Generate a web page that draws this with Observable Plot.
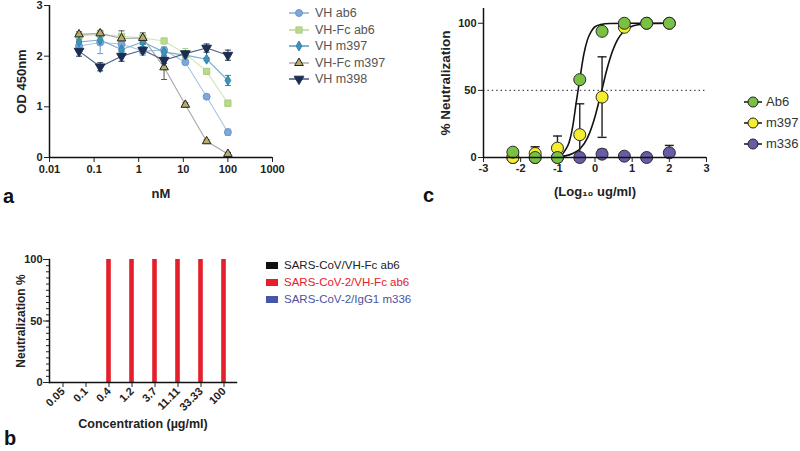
<!DOCTYPE html>
<html><head><meta charset="utf-8">
<script src="https://cdn.jsdelivr.net/npm/d3@7"></script>
<script src="https://cdn.jsdelivr.net/npm/@observablehq/plot@0.6"></script>
<style>
body{margin:0;background:#fff}
#root{position:relative;width:800px;height:451px;overflow:hidden;background:#fff;font-family:"Liberation Sans",Arial,Helvetica,sans-serif}
.letter{position:absolute;font-weight:bold;font-size:20px;line-height:20px;color:#111}
.lrow{position:absolute;display:flex;align-items:center;white-space:nowrap}
</style></head><body><div id="root"></div>
<script>
// ---------- Panel a data ----------
const concA = [0.046, 0.137, 0.412, 1.235, 3.704, 11.11, 33.33, 100];
const namesA = ["VH ab6", "VH-Fc ab6", "VH m397", "VH-Fc m397", "VH m398"];
const vhAb6      = [2.20, 2.27, 2.24, 2.10, 2.12, 1.88, 1.20, 0.50];
const vhFcAb6    = [2.40, 2.43, 2.39, 2.36, 2.30, 2.05, 1.70, 1.07];
const vhM397     = [2.28, 2.32, 2.13, 2.28, 2.08, 2.02, 1.94, 1.52];
const vhFcM397   = [2.43, 2.45, 2.35, 2.36, 1.78, 1.04, 0.32, 0.07];
const vhM398     = [2.10, 1.79, 2.00, 2.12, 1.92, 2.05, 2.16, 2.02];
const vhAb6Sd    = [0.10, 0.22, 0.10, 0.08, 0.06, 0.04, 0.04, 0.06];
const vhFcAb6Sd  = [0.06, 0.05, 0.05, 0.06, 0.04, 0.10, 0.05, 0.06];
const vhM397Sd   = [0.05, 0.05, 0.05, 0.05, 0.08, 0.05, 0.03, 0.10];
const vhFcM397Sd = [0.05, 0.06, 0.15, 0.10, 0.24, 0.04, 0.03, 0.03];
const vhM398Sd   = [0.10, 0.08, 0.10, 0.06, 0.06, 0.05, 0.08, 0.10];
const ticksA = [0.01, 0.1, 1, 10, 100, 1000];
const tickLabelsA = ["0.01", "0.1", "1", "10", "100", "1000"];
const ticksAy = [0, 1, 2, 3];

// ---------- Panel b data ----------
const concB = ["0.05", "0.1", "0.4", "1.2", "3.7", "11.11", "33.33", "100"];
const namesB = ["SARS-CoV/VH-Fc ab6", "SARS-CoV-2/VH-Fc ab6", "SARS-CoV-2/IgG1 m336"];
const sarsCovVhFcAb6   = [0, 0, 0, 0, 0, 0, 0, 0];
const sarsCov2VhFcAb6  = [0, 0, 100, 100, 100, 100, 100, 100];
const sarsCov2IgG1M336 = [0, 0, 0, 0, 0, 0, 0, 0];
const ticksBy = [0, 50, 100];
const minorTicksBy = [0,5,10,15,20,25,30,35,40,45,50,55,60,65,70,75,80,85,90,95,100];

// ---------- Panel c data ----------
const logConcC = [-2.21, -1.61, -1.01, -0.41, 0.19, 0.79, 1.39, 2.0];
const namesC = ["Ab6", "m397", "m336"];
const ab6C   = [4, 0, 0, 58, 94, 100, 100, 100];
const m397C  = [0, 3, 7, 17, 45, 97, 100, 100];
const m336C  = [0, 0, 0, 0, 2.5, 1, 0, 3.5];
const ab6Sd  = [0, 0, 0, 0, 0, 0, 0, 0];
const m397Sd = [0, 5, 9, 23, 30, 0, 0, 0];
const m336Sd = [0, 0, 0, 0, 3.5, 0, 0, 5.5];
const ab6FitX = [-1.1, -0.9, -0.8, -0.7, -0.6, -0.5, -0.4, -0.3, -0.2, -0.1, 0, 0.15, 0.4, 1, 2];
const ab6FitY = [0.3, 2, 5.5, 11, 23, 42, 60, 77, 88, 94, 97.4, 99, 99.8, 100, 100];
const m397FitX = [-1.1, -0.8, -0.6, -0.4, -0.2, 0, 0.1, 0.2, 0.3, 0.4, 0.6, 0.8, 1.0, 1.3, 1.6, 2.0];
const m397FitY = [0.3, 1.2, 3, 6.5, 14.8, 30.4, 41, 52, 63.5, 73.4, 87.4, 94.6, 97.8, 99.4, 99.8, 100];
const ticksCx = [-3, -2, -1, 0, 1, 2, 3];
const ticksCy = [0, 50, 100];
const refLineC = [50];

// ---------- styles ----------
const FONT = "'Liberation Sans', Arial, Helvetica, sans-serif";
const styleA = {
  "VH ab6":     {symbol: "circle",   r: 3.5, fill: "#7ea8d8", stroke: "#6d98cc", line: "#a9c4e4", rotate: 0},
  "VH-Fc ab6":  {symbol: "square",   r: 3.5, fill: "#b9da8f", stroke: "#a9cf7c", line: "#cfe5b3", rotate: 0},
  "VH m397":    {symbol: "diamond",  r: 3.0, fill: "#3d93b8", stroke: "#2f83aa", line: "#76aecb", rotate: 0},
  "VH-Fc m397": {symbol: "triangle", r: 3.2, fill: "#b8ac6c", stroke: "#222", line: "#a7a7a0", rotate: 0},
  "VH m398":    {symbol: "triangle", r: 3.6, fill: "#1b2d52", stroke: "#1b2d52", line: "#4b6184", rotate: 180}
};
const styleB = {
  "SARS-CoV/VH-Fc ab6":   {fill: "#111111", text: "#222", inset: [2, 16]},
  "SARS-CoV-2/VH-Fc ab6": {fill: "#e3202b", text: "#e3202b", inset: [9.2, 9.2]},
  "SARS-CoV-2/IgG1 m336": {fill: "#4657a8", text: "#4a52a0", inset: [16, 2]}
};
const styleC = {
  "Ab6":  {fill: "#79c142"},
  "m397": {fill: "#f4ee2c"},
  "m336": {fill: "#6a5ba6"}
};
const capSymbol = {draw(ctx, size) { const r = Math.sqrt(size / Math.PI); ctx.moveTo(-r, 0); ctx.lineTo(r, 0); }};
const symMap = {circle: d3.symbolCircle, square: d3.symbolSquare, diamond: d3.symbolDiamond, triangle: d3.symbolTriangle};

const root = document.getElementById("root");
function place(node, left, top) {
  node.style.position = "absolute";
  node.style.left = left + "px";
  node.style.top = top + "px";
  root.appendChild(node);
}

// ---------- Panel a ----------
const valuesA = [vhAb6, vhFcAb6, vhM397, vhFcM397, vhM398];
const sdA = [vhAb6Sd, vhFcAb6Sd, vhM397Sd, vhFcM397Sd, vhM398Sd];
const rowsA = namesA.map((name, i) => concA.map((x, j) => ({name, x, y: valuesA[i][j], sd: sdA[i][j]})));
const marksA = [];
rowsA.forEach((rows, i) => marksA.push(Plot.line(rows, {x: "x", y: "y", stroke: styleA[namesA[i]].line, strokeWidth: 1.1})));
rowsA.forEach((rows, i) => {
  const st = styleA[namesA[i]];
  const c = st.stroke === "#222" ? "#555" : st.stroke;
  marksA.push(Plot.ruleX(rows, {x: "x", y1: d => d.y - d.sd, y2: d => d.y + d.sd, stroke: c, strokeWidth: 1}));
  marksA.push(Plot.dot(rows, {x: "x", y: d => d.y + d.sd, symbol: capSymbol, r: 3, stroke: c, fill: "none", strokeWidth: 1}));
  marksA.push(Plot.dot(rows, {x: "x", y: d => d.y - d.sd, symbol: capSymbol, r: 3, stroke: c, fill: "none", strokeWidth: 1}));
});
rowsA.forEach((rows, i) => {
  const st = styleA[namesA[i]];
  marksA.push(Plot.dot(rows, {x: "x", y: "y", symbol: st.symbol, r: st.r, fill: st.fill, stroke: st.stroke, strokeWidth: 1, rotate: st.rotate}));
});
const plotA = Plot.plot({
  width: 290, height: 210, marginLeft: 49, marginRight: 18, marginTop: 5, marginBottom: 53,
  style: {fontFamily: FONT, fontWeight: "bold", color: "#222", background: "transparent", overflow: "visible"},
  x: {type: "log", domain: [0.01, 1000]},
  y: {domain: [0, 3]},
  marks: [
    Plot.axisY({ticks: ticksAy, tickFormat: d => String(d), tickSize: 5, tickPadding: 2, fontSize: 11, label: null}),
    Plot.axisY({ticks: [], label: "OD 450nm", labelAnchor: "center", labelOffset: 33, labelArrow: "none", fontSize: 13}),
    Plot.axisX({ticks: ticksA, tickFormat: d => tickLabelsA[ticksA.indexOf(d)], tickSize: 5, tickPadding: 3, fontSize: 11, label: null}),
    Plot.axisX({ticks: [], label: "nM", labelAnchor: "center", labelOffset: 40, labelArrow: "none", fontSize: 13}),
    ...marksA,
    Plot.ruleY([0], {stroke: "#111", strokeWidth: 1.5}),
    Plot.ruleX([0.01], {stroke: "#111", strokeWidth: 1.5})
  ]
});
place(plotA, 0, 0);

// legend a
namesA.forEach((name, i) => {
  const st = styleA[name];
  const row = document.createElement("div");
  row.className = "lrow";
  const svg = d3.create("svg").attr("width", 22).attr("height", 12);
  svg.append("line").attr("x1", 1).attr("x2", 21).attr("y1", 6).attr("y2", 6).attr("stroke", st.line === "#a7a7a0" ? "#999" : st.stroke).attr("stroke-width", 1.2);
  svg.append("path").attr("d", d3.symbol(symMap[st.symbol], Math.PI * st.r * st.r)())
    .attr("transform", `translate(11,6) rotate(${st.rotate})`).attr("fill", st.fill).attr("stroke", st.stroke).attr("stroke-width", 1);
  row.appendChild(svg.node());
  const t = document.createElement("span");
  t.textContent = name; t.style.fontSize = "12.5px"; t.style.color = "#555"; t.style.marginLeft = "5px";
  row.appendChild(t);
  place(row, 288, 6 + i * 16.5);
});

// ---------- Panel b ----------
const valuesB = [sarsCovVhFcAb6, sarsCov2VhFcAb6, sarsCov2IgG1M336];
const marksB = namesB.map((name, i) => Plot.barY(concB.map((c, j) => ({c, v: valuesB[i][j]})),
  {x: "c", y: "v", fill: styleB[name].fill, insetLeft: styleB[name].inset[0], insetRight: styleB[name].inset[1]}));
const plotB = Plot.plot({
  width: 260, height: 200, marginLeft: 49, marginRight: 24, marginTop: 19, marginBottom: 58,
  style: {fontFamily: FONT, fontWeight: "bold", color: "#222", background: "transparent"},
  x: {domain: concB, padding: 0},
  y: {domain: [0, 100]},
  marks: [
    ...marksB,
    Plot.axisY({ticks: minorTicksBy, tickSize: 3, tickFormat: () => "", label: null}),
    Plot.axisY({ticks: ticksBy, tickSize: 6, tickPadding: 1, fontSize: 11, label: null}),
    Plot.axisY({ticks: [], label: "Neutralization %", labelAnchor: "center", labelOffset: 33, labelArrow: "none", fontSize: 12}),
    Plot.axisX({tickRotate: -45, tickSize: 5, tickPadding: 2, fontSize: 11, label: null}),
    Plot.axisX({ticks: [], label: "Concentration (µg/ml)", labelAnchor: "center", labelOffset: 45, labelArrow: "none", fontSize: 12.5}),
    Plot.frame({anchor: "left", stroke: "#111", strokeWidth: 1.5}),
    Plot.frame({anchor: "bottom", stroke: "#111", strokeWidth: 1.5})
  ]
});
place(plotB, 0, 240);

// legend b
namesB.forEach((name, i) => {
  const st = styleB[name];
  const row = document.createElement("div");
  row.className = "lrow";
  const sw = document.createElement("div");
  sw.style.cssText = `width:12px;height:7px;background:${st.fill};`;
  row.appendChild(sw);
  const t = document.createElement("span");
  t.textContent = name; t.style.fontSize = "11.5px"; t.style.color = st.text; t.style.marginLeft = "6px";
  row.appendChild(t);
  place(row, 266, 259 + i * 17);
});

// ---------- Panel c ----------
const valuesC = [ab6C, m397C, m336C];
const sdC = [ab6Sd, m397Sd, m336Sd];
const rowsC = namesC.map((name, i) => logConcC.map((x, j) => ({x, y: valuesC[i][j], sd: sdC[i][j]})));
const fitAb6 = ab6FitX.map((x, i) => ({x, y: ab6FitY[i]}));
const fitM397 = m397FitX.map((x, i) => ({x, y: m397FitY[i]}));
const marksC = [
  Plot.ruleY(refLineC, {stroke: "#444", strokeWidth: 1.2, strokeDasharray: "1.4,3"}),
  Plot.line(fitAb6, {x: "x", y: "y", curve: "monotone-x", stroke: "#111", strokeWidth: 1.6}),
  Plot.line(fitM397, {x: "x", y: "y", curve: "monotone-x", stroke: "#111", strokeWidth: 1.6})
];
rowsC.forEach(rows => {
  const eb = rows.filter(d => d.sd > 0);
  marksC.push(Plot.ruleX(eb, {x: "x", y1: d => Math.max(0, d.y - d.sd), y2: d => d.y + d.sd, stroke: "#222", strokeWidth: 1.4}));
  marksC.push(Plot.dot(eb, {x: "x", y: d => d.y + d.sd, symbol: capSymbol, r: 4.5, stroke: "#222", fill: "none", strokeWidth: 1.4}));
  marksC.push(Plot.dot(eb.filter(d => d.y - d.sd > 0), {x: "x", y: d => d.y - d.sd, symbol: capSymbol, r: 4.5, stroke: "#222", fill: "none", strokeWidth: 1.4}));
});
[2, 1, 0].forEach(i => {
  marksC.push(Plot.dot(rowsC[i], {x: "x", y: "y", r: 6, fill: styleC[namesC[i]].fill, stroke: "#2a2a2a", strokeWidth: 1}));
});
const plotC = Plot.plot({
  width: 300, height: 210, marginLeft: 63, marginRight: 14, marginTop: 8, marginBottom: 53,
  style: {fontFamily: FONT, fontWeight: "bold", color: "#222", background: "transparent"},
  x: {domain: [-3, 3]},
  y: {domain: [0, 111]},
  marks: [
    Plot.axisY({ticks: ticksCy, tickSize: 5, tickPadding: 2, fontSize: 11, label: null}),
    Plot.axisY({ticks: [], label: "% Neutralization", labelAnchor: "center", labelOffset: 43, labelArrow: "none", fontSize: 13.5}),
    Plot.axisX({ticks: ticksCx, tickFormat: d => String(d), tickSize: 5, tickPadding: 2, fontSize: 11, label: null}),
    Plot.axisX({ticks: [], label: "(Log₁₀ ug/ml)", labelAnchor: "center", labelOffset: 38, labelArrow: "none", fontSize: 13}),
    ...marksC,
    Plot.ruleY([0], {stroke: "#111", strokeWidth: 1.5}),
    Plot.ruleX([-3], {stroke: "#111", strokeWidth: 1.5})
  ]
});
place(plotC, 420, 0);

// legend c
namesC.forEach((name, i) => {
  const row = document.createElement("div");
  row.className = "lrow";
  const svg = d3.create("svg").attr("width", 20).attr("height", 14);
  svg.append("line").attr("x1", 1).attr("x2", 19).attr("y1", 7).attr("y2", 7).attr("stroke", "#222").attr("stroke-width", 1.6);
  svg.append("circle").attr("cx", 10).attr("cy", 7).attr("r", 5).attr("fill", styleC[name].fill).attr("stroke", "#222").attr("stroke-width", 1);
  row.appendChild(svg.node());
  const t = document.createElement("span");
  t.textContent = name; t.style.fontSize = "13px"; t.style.color = "#333"; t.style.marginLeft = "3px";
  row.appendChild(t);
  place(row, 743, 94 + i * 21);
});

// panel letters
[["a", 3, 186], ["b", 4, 428], ["c", 423, 185]].forEach(([s, l, t]) => {
  const d = document.createElement("div");
  d.className = "letter"; d.textContent = s;
  place(d, l, t);
});
</script></body></html>
